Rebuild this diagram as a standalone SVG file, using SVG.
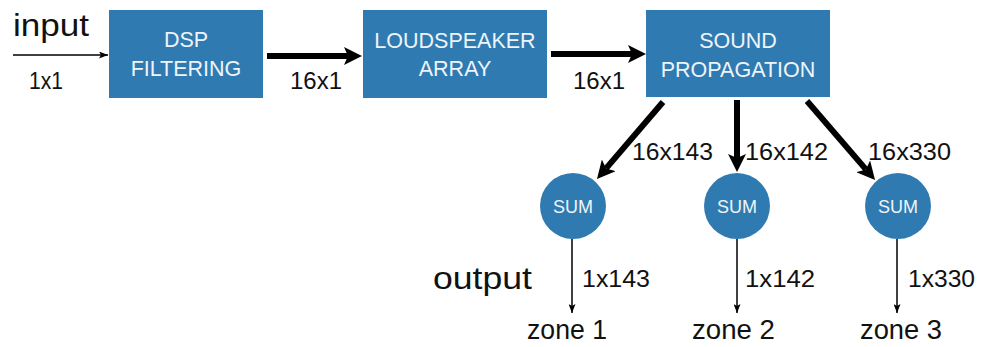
<svg xmlns="http://www.w3.org/2000/svg" width="987" height="347" viewBox="0 0 987 347">
<style>
.box{fill:#2f7bb1}
.bt{font-family:"Liberation Sans",Arial,sans-serif;font-size:21.5px;fill:#eef4f9;text-anchor:middle}
.st{font-family:"Liberation Sans",Arial,sans-serif;font-size:18px;fill:#eef4f9;text-anchor:middle}
.lb{font-family:"Liberation Sans",Arial,sans-serif;font-size:24px;fill:#111}
.big{font-family:"Liberation Sans",Arial,sans-serif;font-size:32px;fill:#111}
.zn{font-family:"Liberation Sans",Arial,sans-serif;font-size:27px;fill:#111}
.thick{stroke:#000;stroke-width:6;fill:none}
.thin{stroke:#000;stroke-width:1.5;fill:none}
</style>
<defs>
<marker id="hk" markerUnits="userSpaceOnUse" markerWidth="18" markerHeight="18" viewBox="0 0 18 18" refX="4" refY="9" orient="auto">
<path d="M0,0 L18,9 L0,18 L4,9 z" fill="#000"/>
</marker>
<marker id="hn" markerUnits="userSpaceOnUse" markerWidth="9" markerHeight="7" viewBox="0 0 9 7" refX="9" refY="3.5" orient="auto">
<path d="M0,0 L9,3.5 L0,7 L2,3.5 z" fill="#000"/>
</marker>
</defs>

<g id="connectors">
<line class="thin" x1="13" y1="55" x2="108" y2="55" marker-end="url(#hn)"/>
<line class="thick" x1="267" y1="56" x2="348" y2="56" marker-end="url(#hk)"/>
<line class="thick" x1="551" y1="54" x2="632" y2="54" marker-end="url(#hk)"/>
<line class="thick" x1="663" y1="102" x2="606.1" y2="168.4" marker-end="url(#hk)"/>
<line class="thick" x1="737" y1="100" x2="737" y2="158" marker-end="url(#hk)"/>
<line class="thick" x1="807" y1="101" x2="865.9" y2="169.4" marker-end="url(#hk)"/>
<line class="thin" x1="572" y1="239" x2="572" y2="313" marker-end="url(#hn)"/>
<line class="thin" x1="737" y1="239" x2="737" y2="313" marker-end="url(#hn)"/>
<line class="thin" x1="897" y1="239" x2="897" y2="313" marker-end="url(#hn)"/>
</g>

<g id="labels">
<text class="big" x="13" y="36" textLength="76" lengthAdjust="spacingAndGlyphs">input</text>
<text class="lb" x="29" y="89" textLength="34" lengthAdjust="spacingAndGlyphs">1x1</text>
<text class="lb" x="290" y="89" textLength="52" lengthAdjust="spacingAndGlyphs">16x1</text>
<text class="lb" x="573" y="89" textLength="52" lengthAdjust="spacingAndGlyphs">16x1</text>
<text class="lb" x="632" y="160" textLength="81" lengthAdjust="spacingAndGlyphs">16x143</text>
<text class="lb" x="745" y="160" textLength="83" lengthAdjust="spacingAndGlyphs">16x142</text>
<text class="lb" x="868" y="160" textLength="83" lengthAdjust="spacingAndGlyphs">16x330</text>
<text class="big" x="433" y="289" textLength="99" lengthAdjust="spacingAndGlyphs">output</text>
<text class="lb" x="582" y="287" textLength="68" lengthAdjust="spacingAndGlyphs">1x143</text>
<text class="lb" x="745" y="287" textLength="70" lengthAdjust="spacingAndGlyphs">1x142</text>
<text class="lb" x="908" y="287" textLength="67" lengthAdjust="spacingAndGlyphs">1x330</text>
<text class="zn" x="527" y="339" textLength="80" lengthAdjust="spacingAndGlyphs">zone 1</text>
<text class="zn" x="692" y="339" textLength="83" lengthAdjust="spacingAndGlyphs">zone 2</text>
<text class="zn" x="860" y="339" textLength="82" lengthAdjust="spacingAndGlyphs">zone 3</text>
</g>

<g id="dsp">
<rect class="box" x="109" y="10" width="154" height="88"/>
<text class="bt" x="186" y="47">DSP</text>
<text class="bt" x="186" y="76">FILTERING</text>
</g>
<g id="loudspeaker">
<rect class="box" x="363" y="10" width="184" height="88"/>
<text class="bt" x="455" y="48">LOUDSPEAKER</text>
<text class="bt" x="455" y="76">ARRAY</text>
</g>
<g id="propagation">
<rect class="box" x="646" y="10" width="184" height="87"/>
<text class="bt" x="738" y="48">SOUND</text>
<text class="bt" x="738" y="77">PROPAGATION</text>
</g>
<g id="sum1">
<circle class="box" cx="573" cy="206" r="33"/>
<text class="st" x="573" y="213">SUM</text>
</g>
<g id="sum2">
<circle class="box" cx="737" cy="206" r="33"/>
<text class="st" x="737" y="213">SUM</text>
</g>
<g id="sum3">
<circle class="box" cx="898" cy="206" r="33"/>
<text class="st" x="898" y="213">SUM</text>
</g>
</svg>
